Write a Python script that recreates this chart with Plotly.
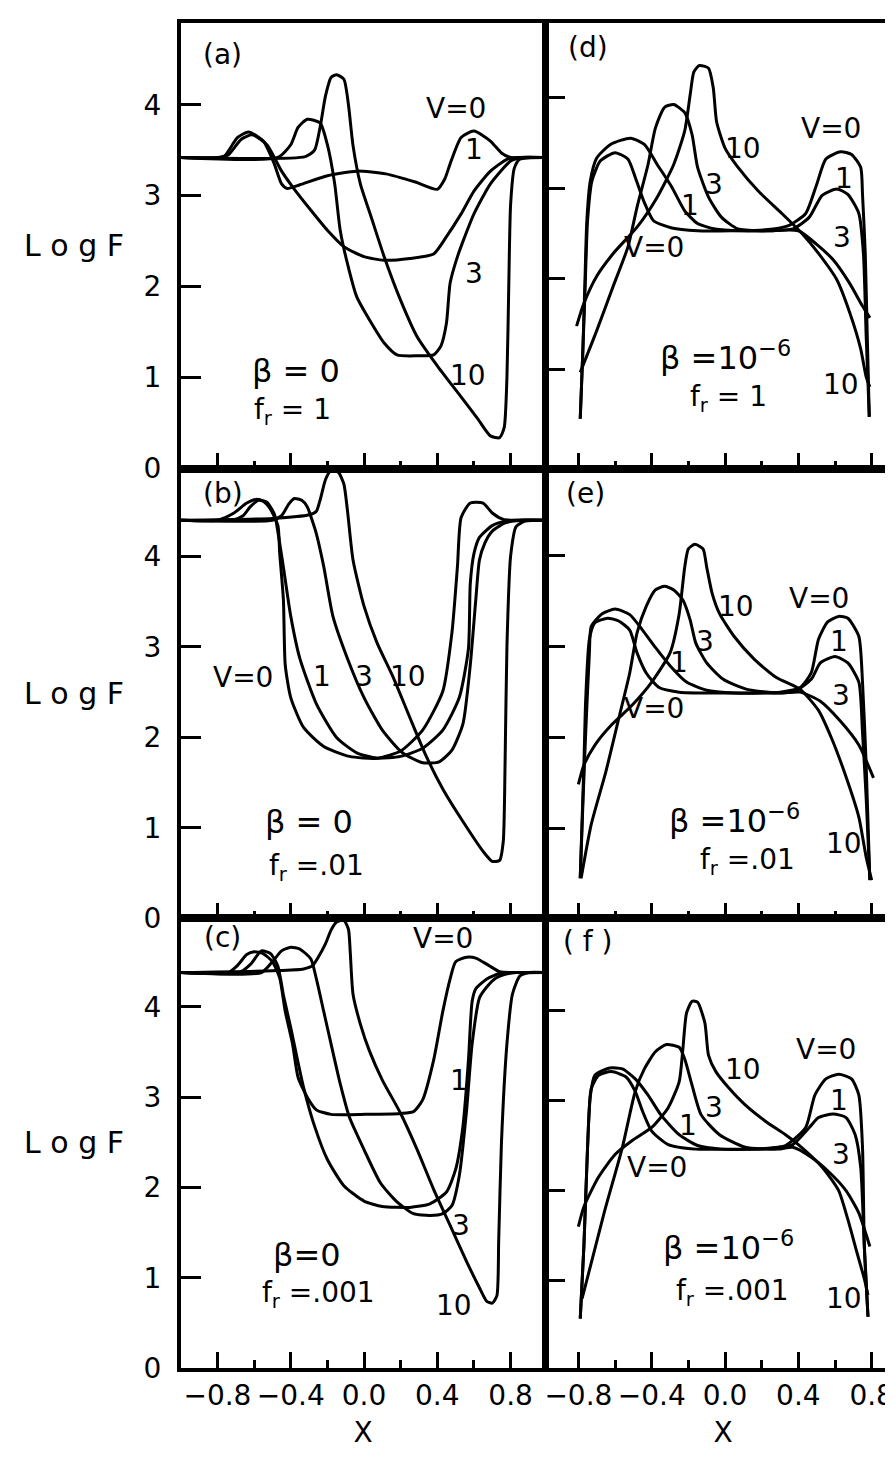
import plotly.graph_objects as go

# ---------------- data (x = X, y = Log F) ----------------
# (a) beta = 0, f_r = 1
A_V0_X = [-1.0, -0.80, -0.76, -0.69, -0.63, -0.55, -0.49, -0.45, -0.42, -0.35, -0.2, -0.04, 0.12, 0.28, 0.40, 0.44, 0.47, 0.53, 0.60, 0.69, 0.75, 0.80, 0.9, 0.99]
A_V0_Y = [3.42, 3.42, 3.44, 3.64, 3.70, 3.60, 3.35, 3.13, 3.08, 3.12, 3.22, 3.27, 3.24, 3.15, 3.07, 3.18, 3.35, 3.64, 3.71, 3.60, 3.47, 3.42, 3.42, 3.42]
A_V1_X = [-1.0, -0.78, -0.74, -0.67, -0.61, -0.53, -0.45, -0.38, -0.29, -0.2, -0.11, 0.0, 0.11, 0.25, 0.38, 0.45, 0.53, 0.60, 0.69, 0.78, 0.84, 0.99]
A_V1_Y = [3.42, 3.42, 3.45, 3.62, 3.67, 3.56, 3.27, 3.07, 2.84, 2.62, 2.44, 2.33, 2.29, 2.31, 2.36, 2.55, 2.80, 3.05, 3.27, 3.40, 3.42, 3.42]
A_V3_X = [-1.0, -0.47, -0.40, -0.36, -0.31, -0.24, -0.20, -0.16, -0.13, -0.09, -0.04, 0.04, 0.11, 0.18, 0.29, 0.38, 0.42, 0.45, 0.47, 0.51, 0.55, 0.60, 0.69, 0.80, 0.86, 0.99]
A_V3_Y = [3.42, 3.42, 3.56, 3.75, 3.84, 3.80, 3.56, 3.13, 2.62, 2.25, 1.89, 1.60, 1.38, 1.25, 1.24, 1.25, 1.35, 1.60, 2.04, 2.33, 2.55, 2.80, 3.13, 3.38, 3.42, 3.42]
A_V10_X = [-1.0, -0.32, -0.27, -0.24, -0.21, -0.18, -0.15, -0.11, -0.085, -0.06, -0.02, 0.04, 0.11, 0.20, 0.29, 0.40, 0.51, 0.62, 0.69, 0.74, 0.765, 0.78, 0.79, 0.80, 0.82, 0.85, 0.99]
A_V10_Y = [3.42, 3.43, 3.50, 3.75, 4.10, 4.30, 4.33, 4.28, 4.00, 3.55, 3.13, 2.76, 2.33, 1.85, 1.45, 1.13, 0.84, 0.55, 0.36, 0.34, 0.45, 1.0, 2.0, 2.9, 3.3, 3.40, 3.42]

# (b) beta = 0, f_r = .01
B_V0_X = [-1.0, -0.80, -0.71, -0.64, -0.59, -0.55, -0.51, -0.47, -0.46, -0.44, -0.43, -0.40, -0.33, -0.22, -0.08, 0.07, 0.20, 0.32, 0.43, 0.48, 0.51, 0.53, 0.58, 0.65, 0.70, 0.76, 0.83, 0.99]
B_V0_Y = [4.40, 4.40, 4.48, 4.59, 4.63, 4.61, 4.52, 4.34, 4.03, 3.52, 2.80, 2.44, 2.11, 1.90, 1.79, 1.77, 1.85, 2.08, 2.51, 3.16, 3.89, 4.43, 4.59, 4.59, 4.48, 4.41, 4.40, 4.40]
B_V1_X = [-1.0, -0.72, -0.66, -0.62, -0.575, -0.53, -0.49, -0.48, -0.44, -0.40, -0.35, -0.26, -0.15, -0.04, 0.07, 0.20, 0.32, 0.43, 0.52, 0.57, 0.58, 0.60, 0.63, 0.70, 0.77, 0.83, 0.99]
B_V1_Y = [4.40, 4.40, 4.45, 4.55, 4.62, 4.60, 4.47, 4.39, 3.88, 3.34, 2.87, 2.37, 2.00, 1.83, 1.77, 1.79, 1.88, 2.08, 2.44, 2.98, 3.70, 4.03, 4.21, 4.34, 4.39, 4.40, 4.40]
B_V3_X = [-1.0, -0.50, -0.45, -0.41, -0.38, -0.34, -0.31, -0.28, -0.26, -0.22, -0.17, -0.09, 0.0, 0.10, 0.21, 0.32, 0.41, 0.48, 0.54, 0.58, 0.61, 0.63, 0.66, 0.70, 0.77, 0.86, 0.99]
B_V3_Y = [4.40, 4.40, 4.45, 4.58, 4.64, 4.62, 4.55, 4.38, 4.25, 3.89, 3.34, 2.87, 2.44, 2.08, 1.83, 1.72, 1.73, 1.86, 2.15, 2.80, 3.52, 3.96, 4.15, 4.28, 4.37, 4.40, 4.40]
B_V10_X = [-1.0, -0.50, -0.30, -0.26, -0.24, -0.21, -0.18, -0.14, -0.11, -0.09, -0.06, 0.0, 0.07, 0.16, 0.25, 0.34, 0.43, 0.54, 0.65, 0.70, 0.74, 0.76, 0.77, 0.78, 0.80, 0.83, 0.88, 0.99]
B_V10_Y = [4.40, 4.42, 4.46, 4.50, 4.62, 4.85, 4.95, 4.93, 4.80, 4.50, 3.96, 3.45, 3.05, 2.66, 2.22, 1.79, 1.43, 1.07, 0.74, 0.63, 0.64, 0.85, 1.72, 3.0, 4.0, 4.33, 4.39, 4.40]

# (c) beta = 0, f_r = .001
C_V0_X = [-1.0, -0.74, -0.69, -0.64, -0.60, -0.55, -0.50, -0.46, -0.43, -0.39, -0.36, -0.31, -0.26, -0.18, 0.01, 0.20, 0.27, 0.32, 0.38, 0.43, 0.47, 0.50, 0.56, 0.61, 0.68, 0.74, 0.83, 0.99]
C_V0_Y = [4.38, 4.38, 4.46, 4.58, 4.61, 4.59, 4.50, 4.32, 3.95, 3.59, 3.22, 3.00, 2.86, 2.81, 2.81, 2.82, 2.84, 2.97, 3.41, 3.95, 4.31, 4.50, 4.55, 4.54, 4.46, 4.39, 4.38, 4.38]
C_V1_X = [-1.0, -0.68, -0.62, -0.56, -0.51, -0.47, -0.44, -0.40, -0.37, -0.33, -0.27, -0.20, -0.11, 0.0, 0.10, 0.25, 0.36, 0.45, 0.50, 0.54, 0.57, 0.59, 0.61, 0.67, 0.74, 0.79, 0.99]
C_V1_Y = [4.38, 4.38, 4.47, 4.62, 4.59, 4.45, 4.13, 3.77, 3.48, 3.11, 2.68, 2.31, 2.02, 1.85, 1.79, 1.78, 1.82, 1.95, 2.20, 2.68, 3.41, 4.06, 4.20, 4.31, 4.37, 4.38, 4.38]
C_V3_X = [-1.0, -0.56, -0.50, -0.45, -0.40, -0.35, -0.29, -0.26, -0.22, -0.18, -0.13, -0.08, 0.0, 0.09, 0.18, 0.27, 0.36, 0.43, 0.48, 0.52, 0.56, 0.59, 0.63, 0.67, 0.72, 0.77, 0.83, 0.99]
C_V3_Y = [4.38, 4.38, 4.50, 4.62, 4.66, 4.64, 4.53, 4.31, 3.95, 3.59, 3.15, 2.78, 2.42, 2.05, 1.84, 1.71, 1.69, 1.71, 1.80, 2.13, 2.86, 3.59, 4.10, 4.22, 4.32, 4.36, 4.38, 4.38]
C_V10_X = [-1.0, -0.50, -0.33, -0.28, -0.25, -0.21, -0.18, -0.15, -0.11, -0.085, -0.075, -0.06, -0.02, 0.03, 0.10, 0.20, 0.29, 0.38, 0.47, 0.56, 0.63, 0.67, 0.70, 0.725, 0.735, 0.75, 0.78, 0.81, 0.85, 0.90, 0.99]
C_V10_Y = [4.38, 4.40, 4.42, 4.46, 4.55, 4.70, 4.85, 4.94, 4.96, 4.86, 4.60, 4.14, 3.81, 3.51, 3.19, 2.82, 2.42, 1.98, 1.58, 1.18, 0.89, 0.74, 0.72, 0.80, 1.40, 2.49, 3.59, 4.14, 4.34, 4.38, 4.38]

# (d) beta = 1e-6, f_r = 1
D_V0_X = [-0.79, -0.776, -0.763, -0.75, -0.726, -0.68, -0.60, -0.53, -0.49, -0.44, -0.39, -0.29, -0.15, 0.04, 0.22, 0.35, 0.44, 0.50, 0.55, 0.63, 0.69, 0.74, 0.75, 0.765, 0.776, 0.787]
D_V0_Y = [0.46, 1.19, 1.92, 2.64, 3.08, 3.30, 3.39, 3.32, 3.12, 2.84, 2.64, 2.56, 2.53, 2.53, 2.54, 2.59, 2.72, 3.04, 3.32, 3.40, 3.37, 3.23, 2.93, 2.28, 1.37, 0.48]
D_V1_X = [-0.79, -0.776, -0.765, -0.754, -0.735, -0.70, -0.625, -0.515, -0.44, -0.37, -0.29, -0.22, -0.15, -0.055, 0.09, 0.24, 0.37, 0.46, 0.53, 0.61, 0.67, 0.73, 0.755, 0.77, 0.787]
D_V1_Y = [0.46, 1.19, 1.92, 2.64, 3.08, 3.33, 3.48, 3.55, 3.48, 3.26, 3.01, 2.75, 2.61, 2.55, 2.53, 2.53, 2.55, 2.68, 2.92, 2.99, 2.93, 2.72, 2.28, 1.37, 0.48]
D_V3_X = [-0.79, -0.70, -0.61, -0.53, -0.48, -0.42, -0.38, -0.33, -0.28, -0.22, -0.18, -0.15, -0.09, -0.02, 0.07, 0.22, 0.40, 0.50, 0.59, 0.68, 0.75, 0.79]
D_V3_Y = [0.97, 1.43, 1.92, 2.35, 2.79, 3.26, 3.66, 3.89, 3.92, 3.83, 3.59, 3.23, 2.90, 2.68, 2.55, 2.53, 2.53, 2.38, 2.21, 1.95, 1.70, 1.57]
D_V10_X = [-0.81, -0.77, -0.70, -0.61, -0.48, -0.37, -0.28, -0.22, -0.19, -0.17, -0.14, -0.09, -0.064, -0.046, 0.0, 0.07, 0.18, 0.31, 0.42, 0.51, 0.61, 0.68, 0.74, 0.77, 0.79]
D_V10_Y = [1.48, 1.73, 2.03, 2.28, 2.57, 2.90, 3.26, 3.63, 4.03, 4.28, 4.35, 4.32, 4.10, 3.73, 3.44, 3.23, 2.97, 2.72, 2.50, 2.28, 1.99, 1.63, 1.23, 0.92, 0.81]

# (e) beta = 1e-6, f_r = .01
E_V0_X = [-0.79, -0.77, -0.76, -0.74, -0.71, -0.64, -0.58, -0.52, -0.48, -0.43, -0.36, -0.25, -0.06, 0.12, 0.30, 0.41, 0.47, 0.51, 0.56, 0.62, 0.67, 0.73, 0.75, 0.77, 0.79]
E_V0_Y = [0.46, 1.70, 2.43, 3.08, 3.26, 3.31, 3.28, 3.18, 2.93, 2.71, 2.55, 2.50, 2.49, 2.49, 2.50, 2.55, 2.71, 3.08, 3.27, 3.33, 3.31, 3.11, 2.61, 1.70, 0.44]
E_V1_X = [-0.79, -0.775, -0.76, -0.74, -0.73, -0.67, -0.60, -0.52, -0.45, -0.38, -0.30, -0.21, -0.10, 0.05, 0.21, 0.38, 0.47, 0.52, 0.60, 0.67, 0.73, 0.75, 0.77, 0.79]
E_V1_Y = [0.46, 1.30, 2.06, 2.93, 3.22, 3.36, 3.41, 3.35, 3.18, 2.99, 2.79, 2.61, 2.52, 2.49, 2.49, 2.51, 2.64, 2.82, 2.89, 2.82, 2.61, 2.06, 1.34, 0.44]
E_V3_X = [-0.785, -0.73, -0.65, -0.58, -0.52, -0.48, -0.43, -0.38, -0.33, -0.28, -0.23, -0.19, -0.16, -0.10, -0.01, 0.12, 0.30, 0.41, 0.52, 0.63, 0.73, 0.81]
E_V3_Y = [0.46, 1.05, 1.63, 2.21, 2.71, 3.15, 3.44, 3.62, 3.66, 3.62, 3.51, 3.29, 3.04, 2.82, 2.64, 2.53, 2.49, 2.50, 2.40, 2.18, 1.92, 1.56]
E_V10_X = [-0.80, -0.77, -0.71, -0.62, -0.51, -0.40, -0.30, -0.25, -0.22, -0.20, -0.165, -0.12, -0.10, -0.07, -0.03, 0.05, 0.16, 0.28, 0.41, 0.51, 0.58, 0.65, 0.73, 0.77, 0.80]
E_V10_Y = [1.49, 1.70, 1.92, 2.14, 2.35, 2.61, 2.93, 3.36, 3.87, 4.07, 4.12, 4.07, 3.87, 3.58, 3.36, 3.11, 2.86, 2.66, 2.53, 2.30, 2.00, 1.63, 1.13, 0.69, 0.44]

# (f) beta = 1e-6, f_r = .001
F_V0_X = [-0.79, -0.77, -0.75, -0.73, -0.69, -0.62, -0.54, -0.49, -0.45, -0.40, -0.31, -0.16, 0.02, 0.20, 0.33, 0.44, 0.49, 0.55, 0.62, 0.69, 0.73, 0.75, 0.76, 0.78]
F_V0_Y = [0.58, 1.38, 2.48, 3.13, 3.28, 3.32, 3.26, 3.10, 2.88, 2.66, 2.51, 2.46, 2.46, 2.46, 2.50, 2.70, 3.06, 3.24, 3.29, 3.24, 3.06, 2.48, 1.38, 0.60]
F_V1_X = [-0.79, -0.77, -0.75, -0.735, -0.71, -0.63, -0.56, -0.49, -0.42, -0.35, -0.25, -0.15, -0.02, 0.15, 0.29, 0.37, 0.46, 0.51, 0.59, 0.66, 0.71, 0.74, 0.76, 0.78]
F_V1_Y = [0.58, 1.38, 2.48, 3.05, 3.28, 3.36, 3.35, 3.24, 3.06, 2.84, 2.62, 2.50, 2.46, 2.46, 2.48, 2.51, 2.70, 2.81, 2.85, 2.81, 2.62, 2.26, 1.38, 0.60]
F_V3_X = [-0.78, -0.66, -0.56, -0.49, -0.44, -0.38, -0.32, -0.25, -0.22, -0.18, -0.13, -0.03, 0.11, 0.29, 0.37, 0.47, 0.56, 0.66, 0.73, 0.79]
F_V3_Y = [0.80, 1.75, 2.48, 3.10, 3.35, 3.54, 3.62, 3.59, 3.46, 3.17, 2.84, 2.62, 2.48, 2.46, 2.48, 2.37, 2.22, 2.00, 1.75, 1.38]
F_V10_X = [-0.80, -0.77, -0.69, -0.60, -0.51, -0.40, -0.31, -0.25, -0.23, -0.21, -0.18, -0.15, -0.11, -0.09, -0.05, 0.02, 0.11, 0.22, 0.33, 0.40, 0.53, 0.62, 0.67, 0.72, 0.76, 0.78]
F_V10_Y = [1.60, 1.82, 2.15, 2.40, 2.55, 2.70, 2.92, 3.21, 3.57, 3.97, 4.10, 4.09, 3.86, 3.50, 3.32, 3.14, 2.95, 2.77, 2.62, 2.51, 2.26, 2.00, 1.68, 1.31, 1.02, 0.84]

# axis ticks
X_MAJOR = [-0.8, -0.4, 0.0, 0.4, 0.8]
X_MAJOR_TEXT = ["\u22120.8", "\u22120.4", "0.0", "0.4", "0.8"]
X_MINOR = [-0.6, -0.2, 0.2, 0.6]
Y_TICKS = [0, 1, 2, 3, 4]
Y_TICK_TEXT = ["0", "1", "2", "3", "4"]

FONT = "DejaVu Sans"
W, H = 893, 1475

LEFT = [172 / W, 537 / W]
RIGHT = [537 / W, 1.0]
ROWS = [[1 - 466 / H, 1 - 15 / H], [1 - 921 / H, 1 - 466 / H], [1 - 1376 / H, 1 - 921 / H]]

panels = [
    dict(curves=[(A_V0_X, A_V0_Y), (A_V1_X, A_V1_Y), (A_V3_X, A_V3_Y), (A_V10_X, A_V10_Y)],
         col=0, row=0, yr=[0, 4.9]),
    dict(curves=[(B_V0_X, B_V0_Y), (B_V1_X, B_V1_Y), (B_V3_X, B_V3_Y), (B_V10_X, B_V10_Y)],
         col=0, row=1, yr=[0, 4.97]),
    dict(curves=[(C_V0_X, C_V0_Y), (C_V1_X, C_V1_Y), (C_V3_X, C_V3_Y), (C_V10_X, C_V10_Y)],
         col=0, row=2, yr=[0, 4.98]),
    dict(curves=[(D_V0_X, D_V0_Y), (D_V1_X, D_V1_Y), (D_V3_X, D_V3_Y), (D_V10_X, D_V10_Y)],
         col=1, row=0, yr=[-0.09, 4.82]),
    dict(curves=[(E_V0_X, E_V0_Y), (E_V1_X, E_V1_Y), (E_V3_X, E_V3_Y), (E_V10_X, E_V10_Y)],
         col=1, row=1, yr=[0.02, 4.95]),
    dict(curves=[(F_V0_X, F_V0_Y), (F_V1_X, F_V1_Y), (F_V3_X, F_V3_Y), (F_V10_X, F_V10_Y)],
         col=1, row=2, yr=[0.03, 5.02]),
]

fig = go.Figure()
layout = {}
for i, p in enumerate(panels, start=1):
    xa = "x" if i == 1 else f"x{i}"
    ya = "y" if i == 1 else f"y{i}"
    for cx, cy in p["curves"]:
        fig.add_trace(go.Scatter(
            x=cx, y=cy, mode="lines", xaxis=xa, yaxis=ya,
            line=dict(color="black", width=3, shape="spline", smoothing=0.6),
            showlegend=False, hoverinfo="skip"))
    left = p["col"] == 0
    bottom = p["row"] == 2
    xkey = "xaxis" if i == 1 else f"xaxis{i}"
    ykey = "yaxis" if i == 1 else f"yaxis{i}"
    xax = dict(
        domain=LEFT if left else RIGHT,
        anchor=ya,
        range=[-1.0, 0.99] if left else [-0.98, 0.96],
        showgrid=False, zeroline=False,
        showline=True, linecolor="black", linewidth=3.5, mirror=True,
        ticks="inside", ticklen=16, tickwidth=2.5, tickcolor="black",
        tickvals=X_MAJOR, ticktext=X_MAJOR_TEXT,
        showticklabels=bottom,
        tickfont=dict(family=FONT, size=28, color="black"),
        minor=dict(tickvals=X_MINOR, ticks="inside", ticklen=8, tickwidth=2.5, tickcolor="black"),
    )
    if bottom:
        xax["title"] = dict(text="X", font=dict(family=FONT, size=28, color="black"), standoff=12)
    layout[xkey] = xax
    layout[ykey] = dict(
        domain=ROWS[p["row"]],
        anchor=xa,
        range=p["yr"],
        showgrid=False, zeroline=False,
        showline=True, linecolor="black", linewidth=4 if left else 3, mirror=left,
        ticks="inside", ticklen=20, tickwidth=2.5, tickcolor="black",
        tickvals=Y_TICKS if left else Y_TICKS[1:],
        ticktext=Y_TICK_TEXT if left else Y_TICK_TEXT[1:],
        showticklabels=left,
        ticklabelstandoff=10,
        tickfont=dict(family=FONT, size=28, color="black"),
    )

fig.update_layout(**layout)


def note(text, ax, x, y, size=28):
    xr = "x" if ax == 1 else f"x{ax}"
    yr = "y" if ax == 1 else f"y{ax}"
    fig.add_annotation(text=text, x=x, y=y, xref=xr, yref=yr, showarrow=False,
                       xanchor="center", yanchor="middle",
                       font=dict(family=FONT, size=size, color="black"))


# (a)
note("(a)", 1, -0.77, 4.55)
note("V=0", 1, 0.5, 3.96)
note("1", 1, 0.6, 3.51)
note("3", 1, 0.6, 2.15)
note("10", 1, 0.57, 1.02)
note("\u03b2 = 0", 1, -0.37, 1.07, 32)
note("f<sub>r</sub> = 1", 1, -0.39, 0.63)
# (b)
note("(b)", 2, -0.77, 4.70)
note("V=0", 2, -0.66, 2.66)
note("1", 2, -0.23, 2.67)
note("3", 2, 0.0, 2.67)
note("10", 2, 0.24, 2.67)
note("\u03b2 = 0", 2, -0.3, 1.07, 32)
note("f<sub>r</sub> =.01", 2, -0.26, 0.56)
# (c)
note("(c)", 3, -0.77, 4.77)
note("V=0", 3, 0.43, 4.76)
note("1", 3, 0.52, 3.19)
note("3", 3, 0.53, 1.58)
note("10", 3, 0.49, 0.69)
note("\u03b2=0", 3, -0.31, 1.25, 32)
note("f<sub>r</sub> =.001", 3, -0.25, 0.81)
# (d)
note("(d)", 4, -0.75, 4.55)
note("V=0", 4, 0.58, 3.66)
note("10", 4, 0.10, 3.44)
note("3", 4, -0.06, 3.04)
note("1", 4, -0.19, 2.81)
note("V=0", 4, -0.39, 2.35)
note("1", 4, 0.65, 3.10)
note("3", 4, 0.64, 2.46)
note("10", 4, 0.63, 0.84)
note("\u03b2 =10<sup>\u22126</sup>", 4, 0.0, 1.15, 32)
note("f<sub>r</sub> = 1", 4, 0.02, 0.68)
# (e)
note("(e)", 5, -0.76, 4.68)
note("V=0", 5, 0.51, 3.53)
note("10", 5, 0.06, 3.44)
note("3", 5, -0.11, 3.06)
note("1", 5, -0.25, 2.82)
note("V=0", 5, -0.39, 2.32)
note("1", 5, 0.62, 3.06)
note("3", 5, 0.63, 2.46)
note("10", 5, 0.65, 0.84)
note("\u03b2 =10<sup>\u22126</sup>", 5, 0.05, 1.11, 32)
note("f<sub>r</sub> =.01", 5, 0.12, 0.64)
# (f)
note("( f )", 6, -0.75, 4.76)
note("V=0", 6, 0.55, 3.57)
note("10", 6, 0.10, 3.34)
note("3", 6, -0.06, 2.92)
note("1", 6, -0.20, 2.72)
note("V=0", 6, -0.37, 2.26)
note("1", 6, 0.62, 3.00)
note("3", 6, 0.63, 2.40)
note("10", 6, 0.65, 0.80)
note("\u03b2 =10<sup>\u22126</sup>", 6, 0.02, 1.38, 32)
note("f<sub>r</sub> =.001", 6, 0.04, 0.87)

# Log F row labels
for yc in [240, 693, 1148]:
    fig.add_annotation(text="L o g F", x=65 / W, y=1 - yc / H, xref="paper", yref="paper",
                       showarrow=False, xanchor="center", yanchor="middle",
                       font=dict(family=FONT, size=30, color="black"))

fig.update_layout(
    width=W, height=H,
    margin=dict(l=0, r=0, t=0, b=0),
    paper_bgcolor="white", plot_bgcolor="white",
    font=dict(family=FONT, color="black"),
)

fig.write_html("out.html")
